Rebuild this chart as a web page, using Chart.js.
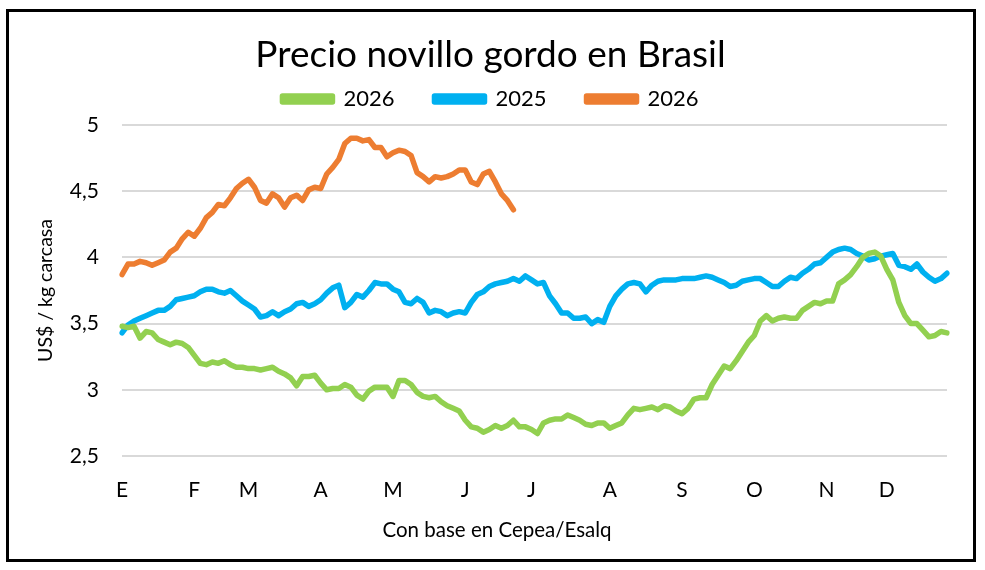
<!DOCTYPE html>
<html>
<head>
<meta charset="utf-8">
<script src="https://cdn.jsdelivr.net/npm/chart.js@4.4.1/dist/chart.umd.min.js"></script>
<style>
  body { margin: 0; background: #fff; }
  #wrap { position: relative; width: 985px; height: 570px; }
  #frame { position: absolute; left: 6px; top: 9px; width: 964px; height: 547px; border: 3px solid #000; pointer-events: none; }
  canvas { position: absolute; left: 0; top: 0; }
</style>
</head>
<body>
<div id="wrap">
  <canvas id="myChart" width="985" height="570"></canvas>
  <div id="frame"></div>
</div>
<script>
// Month letters and the point where each one sits
const monthLabels = ['E', 'F', 'M', 'A', 'M', 'J', 'J', 'A', 'S', 'O', 'N', 'D'];
const monthIndex = [0, 12, 21, 33, 45, 57, 68, 81, 93, 105, 117, 127];

// Y axis ticks
const yTicks = [2.5, 3, 3.5, 4, 4.5, 5];

// Series values (US$ / kg carcasa)
const green2026 = [
  3.48, 3.47, 3.48, 3.39, 3.44, 3.43, 3.38, 3.36, 3.34, 3.36,
  3.35, 3.32, 3.26, 3.20, 3.19, 3.21, 3.20, 3.22, 3.19, 3.17,
  3.17, 3.16, 3.16, 3.15, 3.16, 3.17, 3.14, 3.12, 3.09, 3.03,
  3.10, 3.10, 3.11, 3.05, 3.00, 3.01, 3.01, 3.04, 3.02, 2.96,
  2.93, 2.99, 3.02, 3.02, 3.02, 2.95, 3.07, 3.07, 3.04, 2.98,
  2.95, 2.94, 2.95, 2.91, 2.88, 2.86, 2.84, 2.77, 2.72, 2.71,
  2.68, 2.70, 2.73, 2.71, 2.73, 2.77, 2.72, 2.72, 2.70, 2.67,
  2.75, 2.77, 2.78, 2.78, 2.81, 2.79, 2.77, 2.74, 2.73, 2.75,
  2.75, 2.71, 2.73, 2.75, 2.81, 2.86, 2.85, 2.86, 2.87, 2.85,
  2.88, 2.87, 2.84, 2.82, 2.86, 2.93, 2.94, 2.94, 3.04, 3.11,
  3.18, 3.16, 3.22, 3.29, 3.36, 3.41, 3.52, 3.56, 3.52, 3.54,
  3.55, 3.54, 3.54, 3.60, 3.63, 3.66, 3.65, 3.67, 3.67, 3.80,
  3.83, 3.87, 3.93, 4.00, 4.03, 4.04, 4.01, 3.91, 3.83, 3.66,
  3.56, 3.50, 3.50, 3.45, 3.40, 3.41, 3.44, 3.43
];

const blue2025 = [
  3.43, 3.49, 3.52, 3.54, 3.56, 3.58, 3.60, 3.60, 3.63, 3.68,
  3.69, 3.70, 3.71, 3.74, 3.76, 3.76, 3.74, 3.73, 3.75, 3.71,
  3.67, 3.64, 3.61, 3.55, 3.56, 3.59, 3.56, 3.59, 3.61, 3.65,
  3.66, 3.63, 3.65, 3.68, 3.73, 3.77, 3.79, 3.62, 3.66, 3.72,
  3.70, 3.75, 3.81, 3.80, 3.80, 3.76, 3.74, 3.66, 3.65, 3.69,
  3.66, 3.58, 3.60, 3.59, 3.56, 3.58, 3.59, 3.58, 3.66, 3.72,
  3.74, 3.78, 3.80, 3.81, 3.82, 3.84, 3.82, 3.86, 3.83, 3.80,
  3.81, 3.71, 3.65, 3.58, 3.58, 3.54, 3.54, 3.55, 3.50, 3.53,
  3.51, 3.63, 3.71, 3.76, 3.80, 3.81, 3.80, 3.74, 3.79, 3.82,
  3.83, 3.83, 3.83, 3.84, 3.84, 3.84, 3.85, 3.86, 3.85, 3.83,
  3.81, 3.78, 3.79, 3.82, 3.83, 3.84, 3.84, 3.81, 3.78, 3.78,
  3.82, 3.85, 3.84, 3.88, 3.91, 3.95, 3.96, 4.00, 4.04, 4.06,
  4.07, 4.06, 4.03, 4.01, 3.98, 3.99, 4.01, 4.02, 4.03, 3.94,
  3.93, 3.91, 3.95, 3.89, 3.85, 3.82, 3.84, 3.88
];

const orange2026 = [
  3.87, 3.95, 3.95, 3.97, 3.96, 3.94, 3.96, 3.98, 4.04, 4.07,
  4.14, 4.19, 4.16, 4.22, 4.30, 4.34, 4.40, 4.39, 4.45, 4.52,
  4.56, 4.59, 4.53, 4.43, 4.41, 4.48, 4.45, 4.38, 4.45, 4.47,
  4.43, 4.51, 4.53, 4.52, 4.63, 4.68, 4.74, 4.86, 4.90, 4.90,
  4.88, 4.89, 4.83, 4.83, 4.76, 4.79, 4.81, 4.80, 4.77, 4.64,
  4.61, 4.57, 4.61, 4.60, 4.61, 4.63, 4.66, 4.66, 4.57, 4.55,
  4.63, 4.65, 4.57, 4.48, 4.43, 4.36
];

// Category labels: month letter at its point, blank elsewhere
const labels = green2026.map(() => '');
monthIndex.forEach((idx, i) => { labels[idx] = monthLabels[i]; });

const fontName = 'Lato, "Open Sans", sans-serif';
const xTitle = 'Con base en Cepea/Esalq';

function makeLine(label, data, color) {
    return {
        label: label,
        data: data,
        borderColor: color,
        backgroundColor: color,
        borderWidth: 5.5,
        pointRadius: 0,
        pointHoverRadius: 0,
        tension: 0,
        borderJoinStyle: 'round',
        borderCapStyle: 'round',
        fill: false
    };
}

// Fixed legend height so the plot starts where the reference does
const legendHeight = {
    id: 'legendHeight',
    beforeUpdate(chart) {
        const lg = chart.legend;
        if (lg && !lg._fixed) {
            const fit = lg.fit;
            lg.fit = function() {
                fit.call(this);
                this.height = 77;
            };
            lg._fixed = true;
        }
    }
};

// Source note under the axis, centred on the whole picture like the reference
const sourceNote = {
    id: 'sourceNote',
    afterDraw(chart) {
        const c = chart.ctx;
        c.save();
        c.font = '20.5px ' + fontName;
        c.fillStyle = '#000';
        c.textAlign = 'center';
        c.textBaseline = 'middle';
        c.fillText(xTitle, 497, chart.chartArea.bottom + 74);
        c.restore();
    }
};

const ctx = document.getElementById('myChart').getContext('2d');
const myChart = new Chart(ctx, {
    type: 'line',
    data: {
        labels: labels,
        datasets: [
            makeLine('2026', green2026, '#92D050'),
            makeLine('2025', blue2025, '#00B0F0'),
            makeLine('2026', orange2026, '#ED7D31')
        ]
    },
    plugins: [legendHeight, sourceNote],
    options: {
        responsive: false,
        animation: false,
        layout: {
            padding: { left: 34, right: 38, top: 10, bottom: 28 }
        },
        plugins: {
            title: {
                display: true,
                text: 'Precio novillo gordo en Brasil',
                color: '#000',
                font: { family: fontName, size: 37, weight: 'normal' },
                padding: { top: 22.8, bottom: -29.2 }
            },
            legend: {
                display: true,
                labels: {
                    color: '#000',
                    font: { family: fontName, size: 22 },
                    boxWidth: 50,
                    boxHeight: 6,
                    padding: 40
                }
            },
            tooltip: { enabled: false }
        },
        scales: {
            x: {
                type: 'category',
                offset: false,
                grid: { display: false, drawTicks: false },
                border: { display: false },
                afterFit: function(scale) {
                    scale.height = 86;
                },
                ticks: {
                    autoSkip: false,
                    maxRotation: 0,
                    minRotation: 0,
                    padding: 22,
                    color: '#000',
                    font: { family: fontName, size: 21 }
                },
                title: { display: false }
            },
            y: {
                min: yTicks[0],
                max: yTicks[yTicks.length - 1],
                afterBuildTicks: function(scale) {
                    scale.ticks = yTicks.map(v => ({ value: v }));
                },
                afterFit: function(scale) {
                    scale.width = 88;
                },
                grid: { color: '#D9D9D9', lineWidth: 2, drawTicks: false },
                border: { display: false },
                ticks: {
                    padding: 23,
                    color: '#000',
                    font: { family: fontName, size: 21 },
                    callback: function(value) {
                        return String(value).replace('.', ',');
                    }
                },
                title: {
                    display: true,
                    text: 'US$ / kg carcasa',
                    color: '#000',
                    font: { family: fontName, size: 19.5 },
                    padding: { top: 0, bottom: 0 }
                }
            }
        }
    }
});
</script>
</body>
</html>
